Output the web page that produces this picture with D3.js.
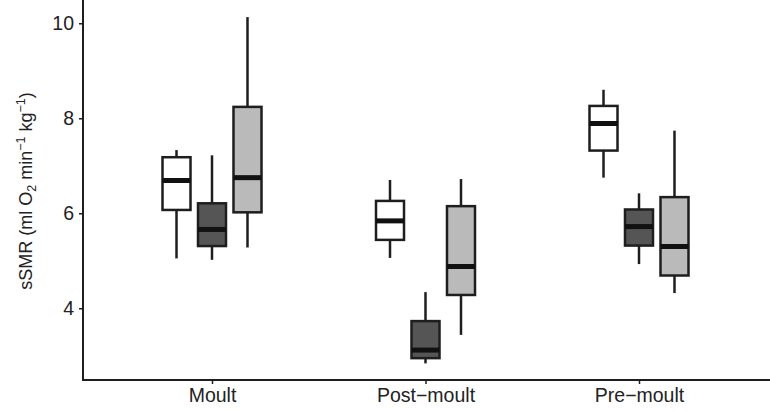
<!DOCTYPE html>
<html>
<head>
<meta charset="utf-8">
<script src="https://cdn.jsdelivr.net/npm/d3@7"></script>
<style>
  body { margin: 0; background: #fff; }
  svg { font-family: "Liberation Sans", Arial, sans-serif; }
</style>
</head>
<body>
<svg id="chart" width="770" height="412"></svg>
<script>
// categories on the x axis and the three box groups within each
const stages = ['Moult', 'Post\u2212moult', 'Pre\u2212moult']
const groups = ['g1', 'g2', 'g3']
const groupFill = ['#ffffff', '#555555', '#bababa']
const yTicks = [4, 6, 8, 10]

// five-number summaries per stage, [lowWhisker, q1, median, q3, highWhisker]
const group1 = [[5.05, 6.07, 6.69, 7.18, 7.33], [5.06, 5.44, 5.84, 6.26, 6.70], [6.75, 7.32, 7.89, 8.26, 8.60]]
const group2 = [[5.02, 5.31, 5.66, 6.21, 7.22], [2.84, 2.95, 3.12, 3.73, 4.34], [4.93, 5.32, 5.72, 6.08, 6.42]]
const group3 = [[5.28, 6.02, 6.75, 8.24, 10.13], [3.44, 4.28, 4.88, 6.15, 6.72], [4.32, 4.69, 5.30, 6.34, 7.74]]
const series = [group1, group2, group3]

const svg = d3.select('#chart')
const axisX = 83
const axisY = 380

const y = d3.scaleLinear().domain([2.49, 10.49]).range([axisY, 0])
const x = d3.scalePoint().domain(stages).range([105.25, 745.75]).padding(0.5)
const xg = d3.scaleBand().domain(groups).range([-49.5, 49.5]).paddingInner(0.211)

const ink = '#1e1e1e'
const font = 'Liberation Sans, Arial, sans-serif'

// boxes
series.forEach((rows, gi) => {
    rows.forEach((s, si) => {
        const [lo, q1, med, q3, hi] = s
        const left = x(stages[si]) + xg(groups[gi])
        const cx = left + xg.bandwidth() / 2
        const g = svg.append('g')
        // whiskers
        g.append('line')
            .attr('x1', cx).attr('x2', cx)
            .attr('y1', y(hi)).attr('y2', y(q3))
            .attr('stroke', ink).attr('stroke-width', 2.5)
        g.append('line')
            .attr('x1', cx).attr('x2', cx)
            .attr('y1', y(q1)).attr('y2', y(lo))
            .attr('stroke', ink).attr('stroke-width', 2.5)
        // box
        g.append('rect')
            .attr('x', left).attr('y', y(q3))
            .attr('width', xg.bandwidth())
            .attr('height', y(q1) - y(q3))
            .attr('fill', groupFill[gi])
            .attr('stroke', ink).attr('stroke-width', 2.5)
        // median
        g.append('line')
            .attr('x1', left).attr('x2', left + xg.bandwidth())
            .attr('y1', y(med)).attr('y2', y(med))
            .attr('stroke', '#111').attr('stroke-width', 5)
    })
})

// y axis
const yAxis = svg.append('g')
    .attr('transform', `translate(${axisX},0)`)
    .call(d3.axisLeft(y).tickValues(yTicks).tickSize(4).tickPadding(5).tickFormat(d3.format('d')))
yAxis.select('.domain').remove()
yAxis.append('line')
    .attr('x1', 0).attr('x2', 0).attr('y1', 0).attr('y2', axisY + 1)
    .attr('stroke', ink).attr('stroke-width', 2)
yAxis.selectAll('.tick line').attr('stroke', ink).attr('stroke-width', 1.5)
yAxis.selectAll('.tick text').attr('font-size', 19.5).attr('fill', '#222').style('font-family', font)

// x axis
const xAxis = svg.append('g')
    .attr('transform', `translate(0,${axisY})`)
    .call(d3.axisBottom(x).tickSize(4).tickPadding(4))
xAxis.select('.domain').remove()
xAxis.append('line')
    .attr('x1', axisX - 1).attr('x2', 770).attr('y1', 0).attr('y2', 0)
    .attr('stroke', ink).attr('stroke-width', 2)
xAxis.selectAll('.tick line').attr('stroke', ink).attr('stroke-width', 1.5)
xAxis.selectAll('.tick text').attr('font-size', 19.5).attr('fill', '#222').style('font-family', font)

// y axis title with sub/superscripts
const title = svg.append('text')
    .attr('transform', 'translate(32,191) rotate(-90)')
    .attr('text-anchor', 'middle')
    .attr('font-size', 18)
    .attr('fill', '#222')
title.append('tspan').text('sSMR (ml O')
title.append('tspan').text('2').attr('font-size', 12.5).attr('dy', 4)
title.append('tspan').text(' min').attr('dy', -4)
title.append('tspan').text('\u22121').attr('font-size', 12.5).attr('dy', -7)
title.append('tspan').text(' kg').attr('dy', 7)
title.append('tspan').text('\u22121').attr('font-size', 12.5).attr('dy', -7)
title.append('tspan').text(')').attr('dy', 7)
</script>
</body>
</html>
